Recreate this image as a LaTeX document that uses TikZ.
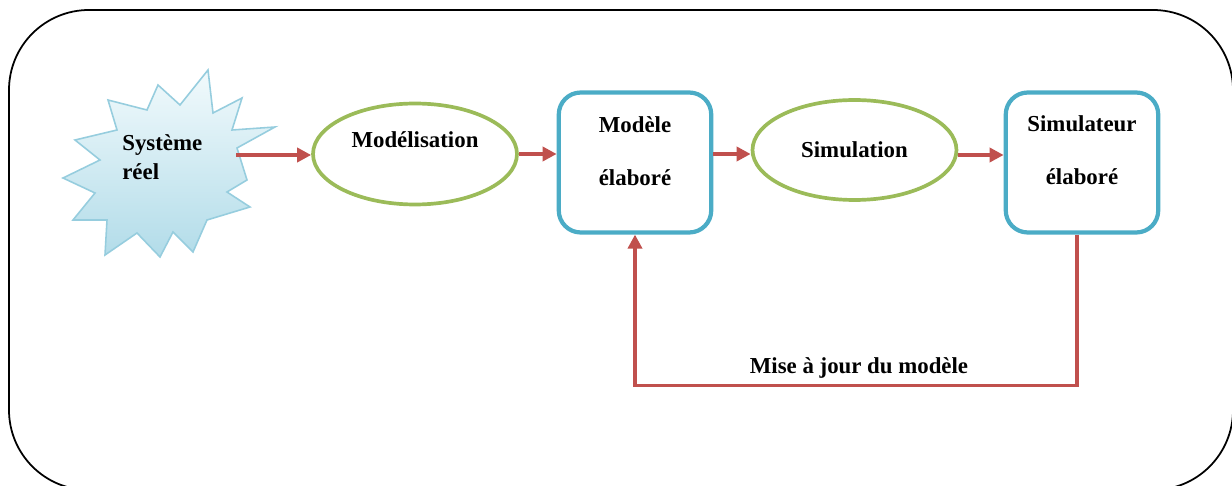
\documentclass[tikz,border=0pt]{standalone}
\usepackage{fontspec}
\setmainfont{Liberation Serif}
\usetikzlibrary{shapes.geometric, arrows.meta, positioning, calc}
\definecolor{simblue}{RGB}{75,172,198}
\definecolor{simgreen}{RGB}{155,187,89}
\definecolor{simred}{RGB}{192,80,77}
\definecolor{burstline}{RGB}{150,205,222}
\definecolor{bursttop}{RGB}{242,250,252}
\definecolor{burstbot}{RGB}{178,220,233}

\begin{document}
\begin{tikzpicture}[
  x=0.02cm, y=-0.02cm,
  txt/.style={font=\fontsize{13}{15.5}\selectfont\bfseries, align=center,
    inner sep=0pt},
  oval/.style={ellipse, draw=simgreen, line width=2.1pt,
    minimum width=4.08cm, minimum height=2.02cm, inner sep=0pt},
  modbox/.style={rectangle, rounded corners=0.44cm, draw=simblue,
    line width=2.4pt, minimum width=3.05cm, minimum height=2.8cm},
  burst/.style={draw=burstline, line width=0.9pt, top color=bursttop,
    bottom color=burstbot, line join=miter},
  arr/.style={-{Triangle[length=8pt, width=8pt]}, line width=2.1pt, simred},
  frame/.style={draw=black, line width=1pt, rounded corners=1.6cm},
]
  \clip (0,0) rectangle (1232,486);
  \draw[frame] (9,10) rectangle (1233,490);

  % Real system (starburst)
  \draw[burst] (208,70) -- (213,113) -- (242,98) -- (232,130) -- (275,127)
    -- (237,148) -- (247,180) -- (227,192) -- (250,207) -- (207,220)
    -- (193,252) -- (173,232) -- (160,257) -- (137,233) -- (105,255)
    -- (107,220) -- (73,220) -- (95,193) -- (63,178) -- (100,160)
    -- (75,140) -- (117,130) -- (108,100) -- (147,110) -- (158,85)
    -- (180,105) -- cycle;
  \node[txt, align=left, anchor=west,
    font=\fontsize{13}{16.5}\selectfont\bfseries] (sys) at (122,157)
    {Système\\réel};
  \coordinate (sysout) at (236,155);

  % Main chain
  \node[oval] (model) at (415,154) {};
  \node[txt] (modeltxt) at (415,140) {Modélisation};
  \node[modbox] (mod) at (635,162.5) {};
  \node[txt] (modtxt) at (635,151.5) {Modèle\\[14.5pt]élaboré};
  \node[oval, minimum height=2cm] (simu) at (854.5,150) {};
  \node[txt] (simutxt) at (854.5,150) {Simulation};
  \node[modbox] (simr) at (1082,162.5) {};
  \node[txt] (simrtxt) at (1082,150) {Simulateur\\[14.5pt]élaboré};

  % Arrows
  \draw[arr] (sysout) -- (model.west |- sysout);
  \draw[arr] (model.east) -- (mod.west |- model.east);
  \draw[arr] (mod.east |- 0,154) -- (simu.west |- 0,154);
  \draw[arr] (simu.east |- 0,155) -- (simr.west |- 0,155);

  % Update loop
  \draw[arr] ([xshift=-0.1cm]simr.south) -- ++(0,151) -| (mod.south);
  \node[txt] (maj) at (859,368) {Mise à jour du modèle};
\end{tikzpicture}
\end{document}
